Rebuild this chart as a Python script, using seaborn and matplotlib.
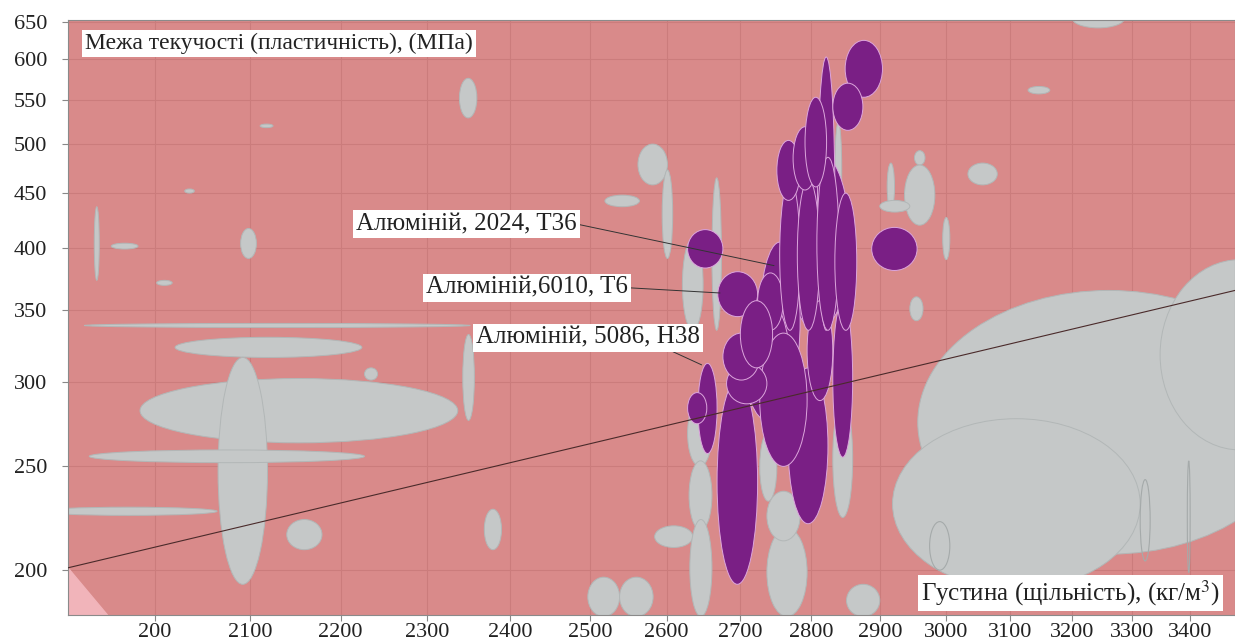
import matplotlib
matplotlib.use("Agg")
import matplotlib.pyplot as plt
from matplotlib.patches import Ellipse
from matplotlib.ticker import NullLocator, NullFormatter
import seaborn as sns

# axis ticks
x_ticks = [2000, 2100, 2200, 2300, 2400, 2500, 2600, 2700, 2800, 2900, 3000, 3100, 3200, 3300, 3400]
x_labels = ["200", "2100", "2200", "2300", "2400", "2500", "2600", "2700", "2800", "2900",
            "3000", "3100", "3200", "3300", "3400"]
y_ticks = [200, 250, 300, 350, 400, 450, 500, 550, 600, 650]

# other materials (grey bubbles): density range, kg/m3 and yield strength range, MPa
grey_rho_lo = [1939, 1956, 2002, 2031, 2090, 2111, 1929, 2021, 1985, 2066, 1934, 1886, 2140, 2227, 2338,
               2562, 2519, 2594, 2661, 2342, 2368, 2584, 2497, 2538, 2628, 2630, 2631, 2727, 2737, 2737,
               2831, 2851, 3200, 3129, 3034, 2952, 2911, 2937, 2900, 2995, 2945, 2957, 2919, 3348, 2834, 2621]
grey_rho_hi = [1944, 1983, 2018, 2041, 2107, 2125, 2351, 2224, 2336, 2119, 2227, 2065, 2179, 2242, 2359,
               2601, 2564, 2608, 2674, 2356, 2389, 2635, 2538, 2582, 2661, 2661, 2661, 2751, 2794, 2784,
               2860, 2900, 3288, 3164, 3080, 2968, 2922, 2983, 2945, 3006, 2965, 3597, 3314, 3634, 2844, 2649]
grey_sy_lo = [373, 399, 369, 450, 391, 518, 337, 316, 263, 194, 252, 225, 209, 301, 529,
              458, 437, 391, 335, 276, 209, 210, 181, 181, 250, 218, 181, 232, 181, 213,
              224, 181, 642, 557, 458, 478, 434, 420, 432, 390, 342, 207, 192, 259, 427, 335]
grey_sy_hi = [437, 404, 373, 454, 417, 522, 340, 330, 302, 316, 259, 229, 223, 309, 576,
              500, 448, 473, 465, 332, 228, 220, 197, 197, 288, 253, 223, 269, 219, 237,
              288, 194, 670, 566, 480, 493, 480, 478, 443, 427, 360, 365, 277, 390, 524, 408]

# outlined only
line_rho_lo = [2975, 3314, 3395]
line_rho_hi = [3006, 3331, 3400]
line_sy_lo = [200, 204, 199]
line_sy_hi = [222, 243, 253]

# aluminium alloys (purple bubbles)
al_rho_lo = [2762, 2727, 2706, 2668, 2767, 2727, 2628, 2669, 2888, 2724, 2642, 2628, 2681, 2676, 2831,
             2700, 2794, 2809, 2755, 2780, 2808, 2834, 2751, 2774, 2791, 2849, 2831]
al_rho_hi = [2856, 2784, 2769, 2724, 2824, 2794, 2676, 2724, 2956, 2760, 2668, 2654, 2737, 2727, 2860,
             2745, 2831, 2834, 2784, 2812, 2840, 2866, 2784, 2808, 2822, 2904, 2875]
al_sy_lo = [335, 288, 276, 194, 221, 250, 383, 345, 381, 335, 257, 274, 286, 301, 255,
            309, 288, 335, 335, 335, 335, 335, 443, 453, 456, 553, 515]
al_sy_hi = [493, 405, 357, 301, 309, 333, 416, 380, 418, 379, 312, 293, 312, 333, 357,
            357, 357, 603, 463, 463, 486, 450, 504, 519, 553, 625, 570]

# selection line and corner region
guide_rho = [1913, 3479]
guide_sy = [201, 365]
corner_rho = [1913, 1913, 1954]
corner_sy = [201, 181, 181]

# labelled grades: name, density, strength
grade_names = ["Алюміній, 2024, T36", "Алюміній,6010, T6", "Алюміній, 5086, H38"]
grade_rho = [2747, 2672, 2647]
grade_sy = [385, 363, 311]


def add_bubbles(ax, x_lo, x_hi, y_lo, y_hi, face, edge, lw, z):
    to_axes = ax.transScale + ax.transLimits
    for x0, x1, y0, y1 in zip(x_lo, x_hi, y_lo, y_hi):
        (a0, b0), (a1, b1) = to_axes.transform([(x0, y0), (x1, y1)])
        ax.add_patch(Ellipse(((a0 + a1) / 2, (b0 + b1) / 2), a1 - a0, b1 - b0,
                             transform=ax.transAxes, facecolor=face, edgecolor=edge,
                             linewidth=lw, zorder=z))


sns.set_theme(style="ticks")
plt.rcParams["font.family"] = ["Liberation Serif", "DejaVu Serif"]
plt.rcParams["mathtext.fontset"] = "stix"

fig = plt.figure(figsize=(12.35, 6.44), dpi=100)
ax = fig.add_axes([0.055, 0.045, 0.945, 0.924])
ax.set_xscale("log")
ax.set_yscale("log")
ax.set_xlim(1913, 3479)
ax.set_ylim(181.6, 653)
ax.set_facecolor("#D98A8A")
ax.set_axisbelow(True)
ax.grid(True, color="#CB7C7C", linewidth=0.8)

ax.fill(corner_rho, corner_sy, color="#F1B4BA", zorder=1.5)

add_bubbles(ax, grey_rho_lo, grey_rho_hi, grey_sy_lo, grey_sy_hi, "#C5C8C8", "#B2B7B7", 0.7, 2)
add_bubbles(ax, line_rho_lo, line_rho_hi, line_sy_lo, line_sy_hi, "none", "#A5AAAA", 0.8, 2.1)
add_bubbles(ax, al_rho_lo, al_rho_hi, al_sy_lo, al_sy_hi, "#7A1F85", "#DDA6DD", 0.7, 3)

sns.lineplot(x=guide_rho, y=guide_sy, ax=ax, color="#4A2A2A", linewidth=0.8, zorder=4)

box = dict(boxstyle="square,pad=0.12", facecolor="white", edgecolor="none")
text_pos = [(0.436, 0.657, 1.0, 0.5), (0.480, 0.550, 1.0, 0.5), (0.5416, 0.466, 0.85, 0.0)]
for name, rx, ry, (tx, ty, rpx, rpy) in zip(grade_names, grade_rho, grade_sy, text_pos):
    ax.annotate(name, xy=(rx, ry), xycoords="data", xytext=(tx, ty), textcoords="axes fraction",
                ha="right", va="center", fontsize=18, color="#222222", bbox=box, zorder=6,
                arrowprops=dict(arrowstyle="-", color="#333333", lw=0.7, relpos=(rpx, rpy),
                                shrinkA=0, shrinkB=0))

ax.text(0.0146, 0.960, "Межа текучості (пластичність), (МПа)", transform=ax.transAxes,
        ha="left", va="center", fontsize=17, color="#222222", bbox=box, zorder=6)
ax.text(0.987, 0.037, "Густина (щільність), (кг/м$^3$)", transform=ax.transAxes,
        ha="right", va="center", fontsize=18, color="#222222", bbox=box, zorder=6)

ax.xaxis.set_minor_locator(NullLocator())
ax.yaxis.set_minor_locator(NullLocator())
ax.xaxis.set_minor_formatter(NullFormatter())
ax.yaxis.set_minor_formatter(NullFormatter())
ax.set_xticks(x_ticks, labels=x_labels)
ax.set_yticks(y_ticks, labels=[str(v) for v in y_ticks])
ax.tick_params(axis="both", colors="#888888", labelcolor="#222222", length=4, width=0.8)
ax.tick_params(axis="x", labelsize=16, pad=2)
ax.tick_params(axis="y", labelsize=16, pad=11)
ax.set_xlabel("")
ax.set_ylabel("")
for s in ax.spines.values():
    s.set_color("#8A8A8A")
    s.set_linewidth(0.8)

fig.savefig("out.png", dpi=100)
